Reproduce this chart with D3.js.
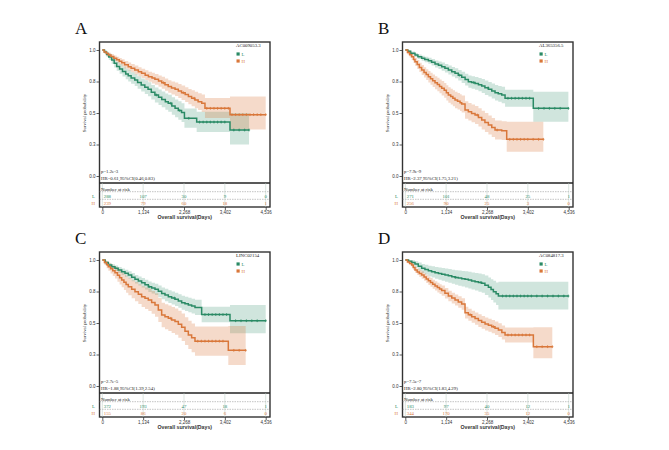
<!DOCTYPE html>
<html><head><meta charset="utf-8">
<script src="https://cdn.jsdelivr.net/npm/d3@7"></script>
<style>body{margin:0;background:#fff} svg{display:block}</style>
</head><body>
<svg id="c" width="669" height="450"></svg>
<script>
// ---------- shared axis data ----------
const xTicks = [0, 1134, 2268, 3402, 4536];
const yTicks = [0, 0.25, 0.5, 0.75, 1];
const yTickLabels = ["0.0", "0.3", "0.5", "0.8", "1.0"];
const groups = ["L", "H"];
const panelLetters = ["A", "B", "C", "D"];
const geneNames = ["AC009053.3", "AL365356.5", "LINC02154", "AC084817.3"];
const pTexts = ["p=1.2e-3", "p=7.9e-9", "p=2.7e-5", "p=7.5e-7"];
const hrTexts = ["HR=0.61,95%CI(0.46,0.83)", "HR=2.37,95%CI(1.75,3.21)", "HR=1.88,95%CI(1.39,2.54)", "HR=2.80,95%CI(1.83,4.29)"];

// ---------- Panel A ----------
const aTimeL = [0,60,120,180,260,330,400,480,560,650,720,800,900,980,1080,1180,1270,1360,1460,1560,1650,1750,1830,1930,2020,2110,2200,2280,2620,3545,4073];
const aSurvL = [1.0,0.985,0.965,0.945,0.92,0.895,0.87,0.85,0.83,0.81,0.795,0.778,0.762,0.742,0.722,0.705,0.688,0.665,0.643,0.625,0.608,0.59,0.577,0.556,0.537,0.52,0.503,0.458,0.428,0.365,0.365];
const aLowL = [1,0.97,0.945,0.92,0.89,0.862,0.835,0.812,0.79,0.768,0.75,0.732,0.714,0.692,0.67,0.651,0.632,0.608,0.584,0.564,0.545,0.525,0.51,0.487,0.466,0.447,0.428,0.382,0.35,0.25,0.25];
const aUpL = [1,1,0.985,0.97,0.95,0.928,0.905,0.888,0.87,0.852,0.84,0.824,0.81,0.792,0.774,0.759,0.744,0.722,0.702,0.686,0.671,0.655,0.644,0.625,0.608,0.593,0.578,0.535,0.51,0.5,0.5];
const aCensL = [1500,1900,2150,2400,2700,2800,2900,3000,3100,3200,3300,3400,3650,3800,3950,4073];
const aTimeH = [0,50,110,170,240,320,400,470,540,620,720,800,900,1000,1090,1190,1280,1380,1460,1560,1650,1740,1830,1920,2020,2110,2200,2300,2390,2480,2570,2660,2760,2850,3545,4536];
const aSurvH = [1.0,0.985,0.972,0.96,0.948,0.935,0.922,0.91,0.898,0.882,0.868,0.856,0.842,0.828,0.815,0.8,0.788,0.777,0.767,0.753,0.74,0.725,0.71,0.698,0.688,0.675,0.661,0.646,0.63,0.617,0.603,0.59,0.577,0.537,0.487,0.487];
const aLowH = [1,0.975,0.957,0.942,0.928,0.913,0.898,0.884,0.87,0.852,0.836,0.823,0.807,0.792,0.778,0.761,0.748,0.735,0.724,0.708,0.693,0.677,0.66,0.646,0.634,0.62,0.604,0.587,0.569,0.554,0.538,0.523,0.507,0.46,0.37,0.37];
const aUpH = [1,0.995,0.987,0.978,0.968,0.957,0.946,0.936,0.926,0.912,0.9,0.889,0.877,0.864,0.852,0.839,0.828,0.819,0.81,0.798,0.787,0.773,0.76,0.75,0.742,0.73,0.718,0.705,0.691,0.68,0.668,0.657,0.647,0.62,0.63,0.63];
const aCensH = [1700,2250,2550,2900,3000,3100,3200,3300,3400,3500,3600,3700,3800,3900,4000,4100,4200,4300,4400,4536];
const aRiskL = [288, 107, 30, 9, 0];
const aRiskH = [239, 79, 60, 18, 1];

// ---------- Panel B ----------
const bTimeL = [0,70,150,269,350,454,540,640,730,825,920,1010,1100,1195,1290,1380,1470,1565,1660,1750,1840,1936,2030,2121,2210,2306,2400,2491,2580,2676,2769,3553,4527];
const bSurvL = [1.0,0.99,0.975,0.96,0.947,0.934,0.925,0.915,0.902,0.889,0.879,0.868,0.855,0.841,0.828,0.815,0.8,0.783,0.765,0.749,0.742,0.735,0.725,0.714,0.7,0.688,0.675,0.661,0.652,0.643,0.617,0.537,0.537];
const bLowL = [1,0.982,0.962,0.944,0.929,0.914,0.903,0.891,0.876,0.861,0.849,0.836,0.821,0.805,0.79,0.775,0.758,0.739,0.719,0.701,0.693,0.684,0.672,0.659,0.643,0.63,0.615,0.6,0.589,0.578,0.55,0.431,0.431];
const bUpL = [1,0.998,0.988,0.976,0.965,0.954,0.947,0.939,0.928,0.917,0.909,0.9,0.889,0.877,0.866,0.855,0.842,0.827,0.811,0.797,0.791,0.786,0.778,0.769,0.757,0.746,0.735,0.722,0.715,0.708,0.684,0.669,0.669];
const bCensL = [1500,1900,2300,2850,2950,3050,3150,3250,3350,3450,3700,3850,4000,4150,4300,4527];
const bTimeH = [0,60,120,177,230,269,330,390,454,520,580,640,700,760,825,890,950,1010,1080,1140,1195,1260,1320,1380,1450,1520,1565,1658,1750,1840,1936,2030,2121,2210,2306,2400,2491,2676,2815,3832];
const bSurvH = [1.0,0.98,0.962,0.947,0.925,0.907,0.885,0.862,0.841,0.822,0.805,0.788,0.772,0.756,0.74,0.726,0.711,0.696,0.68,0.66,0.643,0.63,0.617,0.603,0.593,0.582,0.571,0.524,0.51,0.497,0.484,0.465,0.444,0.425,0.405,0.385,0.365,0.36,0.291,0.291];
const bLowH = [1,0.965,0.94,0.921,0.896,0.875,0.85,0.825,0.802,0.781,0.762,0.743,0.725,0.707,0.689,0.673,0.656,0.639,0.621,0.6,0.581,0.567,0.553,0.538,0.527,0.515,0.503,0.455,0.44,0.426,0.412,0.392,0.37,0.35,0.33,0.31,0.29,0.285,0.193,0.193];
const bUpH = [1,0.995,0.984,0.973,0.954,0.939,0.92,0.899,0.88,0.863,0.848,0.833,0.819,0.805,0.791,0.779,0.766,0.753,0.739,0.72,0.705,0.693,0.681,0.668,0.659,0.649,0.639,0.593,0.58,0.568,0.556,0.538,0.518,0.5,0.48,0.46,0.44,0.435,0.431,0.431];
const bCensH = [2000,2550,2900,3000,3100,3200,3300,3400,3550,3700,3832];
const bRiskL = [271, 101, 48, 25, 1];
const bRiskH = [256, 90, 25, 3, 0];

// ---------- Panel C ----------
const cTimeL = [0,80,167,260,352,440,538,630,722,815,907,1000,1092,1185,1277,1370,1463,1555,1648,1740,1833,1925,2018,2110,2203,2295,2388,2480,2573,2758,3545,4536];
const cSurvL = [1.0,0.98,0.96,0.947,0.934,0.92,0.907,0.894,0.881,0.864,0.847,0.833,0.82,0.804,0.788,0.777,0.767,0.751,0.735,0.722,0.709,0.698,0.688,0.675,0.661,0.652,0.643,0.634,0.624,0.567,0.518,0.518];
const cLowL = [1,0.968,0.944,0.928,0.912,0.896,0.881,0.866,0.851,0.832,0.813,0.797,0.782,0.765,0.747,0.734,0.723,0.705,0.688,0.673,0.659,0.646,0.635,0.621,0.605,0.595,0.585,0.575,0.564,0.505,0.418,0.418];
const cUpL = [1,0.992,0.976,0.966,0.956,0.944,0.933,0.922,0.911,0.896,0.881,0.869,0.858,0.843,0.829,0.82,0.811,0.797,0.782,0.771,0.759,0.75,0.741,0.729,0.717,0.709,0.701,0.693,0.684,0.629,0.643,0.643];
const cCensL = [1300,2000,2850,2950,3050,3150,3250,3350,3450,3700,3850,4000,4150,4300,4536];
const cTimeH = [0,60,120,167,230,290,352,420,480,538,600,660,722,815,907,1000,1092,1185,1277,1370,1463,1555,1648,1740,1833,1925,2018,2110,2203,2295,2388,2480,2573,3498,3980];
const cSurvH = [1.0,0.98,0.962,0.947,0.93,0.915,0.899,0.878,0.86,0.841,0.823,0.805,0.788,0.768,0.749,0.729,0.709,0.696,0.683,0.663,0.643,0.603,0.563,0.55,0.537,0.524,0.511,0.49,0.466,0.435,0.405,0.382,0.356,0.283,0.283];
const cLowH = [1,0.96,0.935,0.915,0.893,0.874,0.853,0.828,0.806,0.783,0.761,0.74,0.72,0.696,0.673,0.65,0.627,0.611,0.596,0.573,0.55,0.508,0.466,0.451,0.436,0.421,0.406,0.383,0.357,0.325,0.293,0.268,0.24,0.167,0.167];
const cUpH = [1,0.998,0.988,0.978,0.966,0.955,0.944,0.928,0.914,0.899,0.885,0.87,0.856,0.84,0.825,0.808,0.792,0.781,0.771,0.753,0.736,0.698,0.66,0.649,0.638,0.627,0.616,0.597,0.575,0.546,0.518,0.496,0.472,0.476,0.476];
const cCensH = [1900,2650,2750,2850,2950,3050,3150,3250,3350,3650,3800,3980];
const cRiskL = [372, 193, 47, 18, 1];
const cRiskH = [155, 86, 20, 6, 0];

// ---------- Panel D ----------
const dTimeL = [0,90,180,269,360,454,545,640,730,825,920,1010,1102,1195,1290,1380,1470,1565,1658,1750,1840,1936,2030,2121,2210,2306,2380,2445,2520,2584,4525];
const dSurvL = [1.0,0.99,0.98,0.968,0.95,0.934,0.925,0.915,0.907,0.899,0.893,0.887,0.881,0.875,0.868,0.862,0.857,0.852,0.847,0.841,0.834,0.828,0.822,0.815,0.8,0.783,0.766,0.749,0.732,0.714,0.714];
const dLowL = [1,0.975,0.958,0.94,0.917,0.897,0.885,0.872,0.861,0.851,0.843,0.835,0.828,0.82,0.811,0.803,0.796,0.789,0.782,0.774,0.765,0.757,0.749,0.74,0.722,0.702,0.682,0.662,0.642,0.608,0.608];
const dUpL = [1,1,0.998,0.99,0.98,0.968,0.962,0.955,0.95,0.945,0.941,0.937,0.933,0.929,0.923,0.919,0.916,0.913,0.91,0.906,0.9,0.896,0.892,0.887,0.876,0.862,0.848,0.836,0.822,0.828,0.828];
const dCensL = [1400,2100,2700,2800,2900,3000,3100,3200,3300,3400,3500,3650,3800,3950,4100,4250,4400,4525];
const dTimeH = [0,60,120,177,220,269,330,390,454,520,580,640,700,760,825,890,950,1010,1100,1195,1290,1380,1470,1565,1658,1750,1843,1936,2028,2120,2214,2306,2399,2490,2584,2680,2769,3555,4081];
const dSurvH = [1.0,0.985,0.972,0.96,0.94,0.921,0.905,0.893,0.881,0.865,0.85,0.836,0.822,0.808,0.794,0.781,0.769,0.757,0.736,0.714,0.698,0.683,0.667,0.651,0.582,0.566,0.55,0.535,0.519,0.505,0.492,0.482,0.471,0.458,0.444,0.425,0.405,0.312,0.312];
const dLowH = [1,0.975,0.958,0.943,0.92,0.898,0.88,0.866,0.852,0.835,0.818,0.802,0.787,0.772,0.757,0.743,0.73,0.717,0.695,0.672,0.655,0.639,0.622,0.605,0.535,0.518,0.502,0.486,0.469,0.455,0.441,0.43,0.418,0.404,0.389,0.369,0.345,0.22,0.22];
const dUpH = [1,0.995,0.986,0.977,0.96,0.944,0.93,0.92,0.91,0.895,0.882,0.87,0.857,0.844,0.831,0.819,0.808,0.797,0.777,0.756,0.741,0.727,0.712,0.697,0.629,0.614,0.598,0.584,0.569,0.555,0.543,0.534,0.524,0.512,0.499,0.481,0.465,0.466,0.466];
const dCensH = [1800,2450,2850,2950,3050,3150,3250,3350,3450,3650,3800,3950,4081];
const dRiskL = [183, 97, 40, 12, 1];
const dRiskH = [344, 170, 35, 12, 0];

// ---------- assemble ----------
const panels = [
  {L: [aTimeL, aSurvL, aLowL, aUpL, aCensL], H: [aTimeH, aSurvH, aLowH, aUpH, aCensH], riskL: aRiskL, riskH: aRiskH},
  {L: [bTimeL, bSurvL, bLowL, bUpL, bCensL], H: [bTimeH, bSurvH, bLowH, bUpH, bCensH], riskL: bRiskL, riskH: bRiskH},
  {L: [cTimeL, cSurvL, cLowL, cUpL, cCensL], H: [cTimeH, cSurvH, cLowH, cUpH, cCensH], riskL: cRiskL, riskH: cRiskH},
  {L: [dTimeL, dSurvL, dLowL, dUpL, dCensL], H: [dTimeH, dSurvH, dLowH, dUpH, dCensH], riskL: dRiskL, riskH: dRiskH}
];

const COL = {L: "#2A8A65", H: "#D9773A"};
const BAND = {L: "rgba(42,138,101,0.22)", H: "rgba(217,119,58,0.27)"};
const SERIF = "'Liberation Serif','Times New Roman',serif";
const SANS = "'Liberation Sans',Arial,sans-serif";
const offsets = [[0, 0], [303, 0], [0, 210], [303, 210]];

const svg = d3.select("#c");

panels.forEach((p, i) => {
  const g = svg.append("g").attr("transform", `translate(${offsets[i][0]},${offsets[i][1]})`);
  const x = d3.scaleLinear().domain([0, 4536]).range([102.3, 265.7]);
  const y = d3.scaleLinear().domain([0, 1]).range([176, 50]);
  const left = 99.5, right = 270, top = 42, mid = 183, bottom = 207;

  // bands
  groups.forEach(gr => {
    const [t, s, lo, up] = p[gr];
    const data = t.map((v, k) => ({t: v, lo: lo[k], up: up[k]}));
    g.append("path").datum(data)
      .attr("d", d3.area().curve(d3.curveStepAfter).x(d => x(d.t)).y0(d => y(d.lo)).y1(d => y(d.up)))
      .attr("fill", BAND[gr]).attr("stroke", "none");
  });
  // lines + censor marks
  groups.forEach(gr => {
    const [t, s, lo, up, cens] = p[gr];
    const data = t.map((v, k) => ({t: v, s: s[k]}));
    g.append("path").datum(data)
      .attr("d", d3.line().curve(d3.curveStepAfter).x(d => x(d.t)).y(d => y(d.s)))
      .attr("fill", "none").attr("stroke", COL[gr]).attr("stroke-width", 1.5);
    const sAt = tt => s[Math.max(0, d3.bisectRight(t, tt) - 1)];
    g.selectAll(null).data(cens).enter().append("path")
      .attr("d", d => `M${x(d)},${y(sAt(d)) - 1.4}V${y(sAt(d)) + 1.4}M${x(d) - 1.1},${y(sAt(d))}H${x(d) + 1.1}`)
      .attr("stroke", COL[gr]).attr("stroke-width", 0.8).attr("fill", "none");
  });

  // frame
  g.append("rect").attr("x", left).attr("y", top).attr("width", right - left).attr("height", bottom - top)
    .attr("fill", "none").attr("stroke", "#333").attr("stroke-width", 1.4);
  g.append("line").attr("x1", left).attr("x2", right).attr("y1", mid).attr("y2", mid)
    .attr("stroke", "#222").attr("stroke-width", 1.6);

  // y axis
  const ya = g.append("g").attr("transform", `translate(${left},0)`)
    .call(d3.axisLeft(y).tickValues(yTicks).tickFormat((d, k) => yTickLabels[k]).tickSize(3).tickPadding(1));
  ya.select(".domain").remove();
  ya.selectAll("line").attr("stroke", "#333").attr("stroke-width", 0.8);
  ya.selectAll("text").attr("font-family", SANS).attr("font-size", 4.5).attr("fill", "#333");
  g.append("text").attr("transform", `translate(86,113) rotate(-90)`).attr("text-anchor", "middle")
    .attr("font-family", SERIF).attr("font-size", 4.8).attr("fill", "#222").text("Survival probability");

  // risk table
  [191.7, 199.3].forEach(yy => g.append("line").attr("x1", left).attr("x2", right).attr("y1", yy).attr("y2", yy)
    .attr("stroke", "#888").attr("stroke-width", 0.5).attr("stroke-dasharray", "1.5,1"));
  g.selectAll(null).data(xTicks).enter().append("line")
    .attr("x1", d => x(d)).attr("x2", d => x(d)).attr("y1", mid).attr("y2", bottom)
    .attr("stroke", "#b9cbc2").attr("stroke-width", 0.5);
  g.append("text").attr("x", 101).attr("y", 190.5).attr("font-family", SERIF).attr("font-size", 4.8)
    .attr("fill", "#222").text("Number at risk");
  [["L", p.riskL, 197.6], ["H", p.riskH, 205]].forEach(([gr, vals, yy]) => {
    g.append("text").attr("x", 95).attr("y", yy).attr("text-anchor", "end").attr("font-family", SERIF)
      .attr("font-size", 4.8).attr("fill", COL[gr]).text(gr);
    g.selectAll(null).data(vals).enter().append("text")
      .attr("x", (d, k) => x(xTicks[k]) + (k === 0 ? 1.5 : 0)).attr("y", yy)
      .attr("text-anchor", (d, k) => k === 0 ? "start" : "middle")
      .attr("font-family", SERIF).attr("font-size", 4.8).attr("fill", COL[gr]).text(d => d);
  });

  // x axis
  const xa = g.append("g").attr("transform", `translate(0,${bottom})`)
    .call(d3.axisBottom(x).tickValues(xTicks).tickFormat(d3.format(",")).tickSize(3).tickPadding(1));
  xa.select(".domain").remove();
  xa.selectAll("line").attr("stroke", "#333").attr("stroke-width", 0.8);
  xa.selectAll("text").attr("font-family", SANS).attr("font-size", 4.5).attr("fill", "#333");
  g.append("text").attr("x", (left + right) / 2).attr("y", 219).attr("text-anchor", "middle")
    .attr("font-family", SANS).attr("font-weight", "bold").attr("font-size", 5.2).attr("fill", "#333")
    .text("Overall survival(Days)");

  // stats
  g.append("text").attr("x", 101).attr("y", 173.3).attr("font-family", SERIF).attr("font-size", 4.8)
    .attr("fill", "#222").text(pTexts[i]);
  g.append("text").attr("x", 101).attr("y", 180.2).attr("font-family", SERIF).attr("font-size", 4.8)
    .attr("fill", "#222").text(hrTexts[i]);

  // legend
  g.append("text").attr("x", 236).attr("y", 46.7).attr("font-family", SERIF).attr("font-size", 4.8)
    .attr("fill", "#222").text(geneNames[i]);
  groups.forEach((gr, k) => {
    const yy = 54 + k * 7;
    g.append("rect").attr("x", 236.5).attr("y", yy - 1.6).attr("width", 3.2).attr("height", 3.2).attr("fill", COL[gr]);
    g.append("text").attr("x", 241.6).attr("y", yy + 1.6).attr("font-family", SERIF).attr("font-size", 4.8)
      .attr("fill", COL[gr]).text(gr);
  });

  // panel letter
  g.append("text").attr("x", 75).attr("y", 33.5).attr("font-family", SERIF).attr("font-size", 17)
    .attr("fill", "#111").text(panelLetters[i]);
});
</script>
</body></html>
